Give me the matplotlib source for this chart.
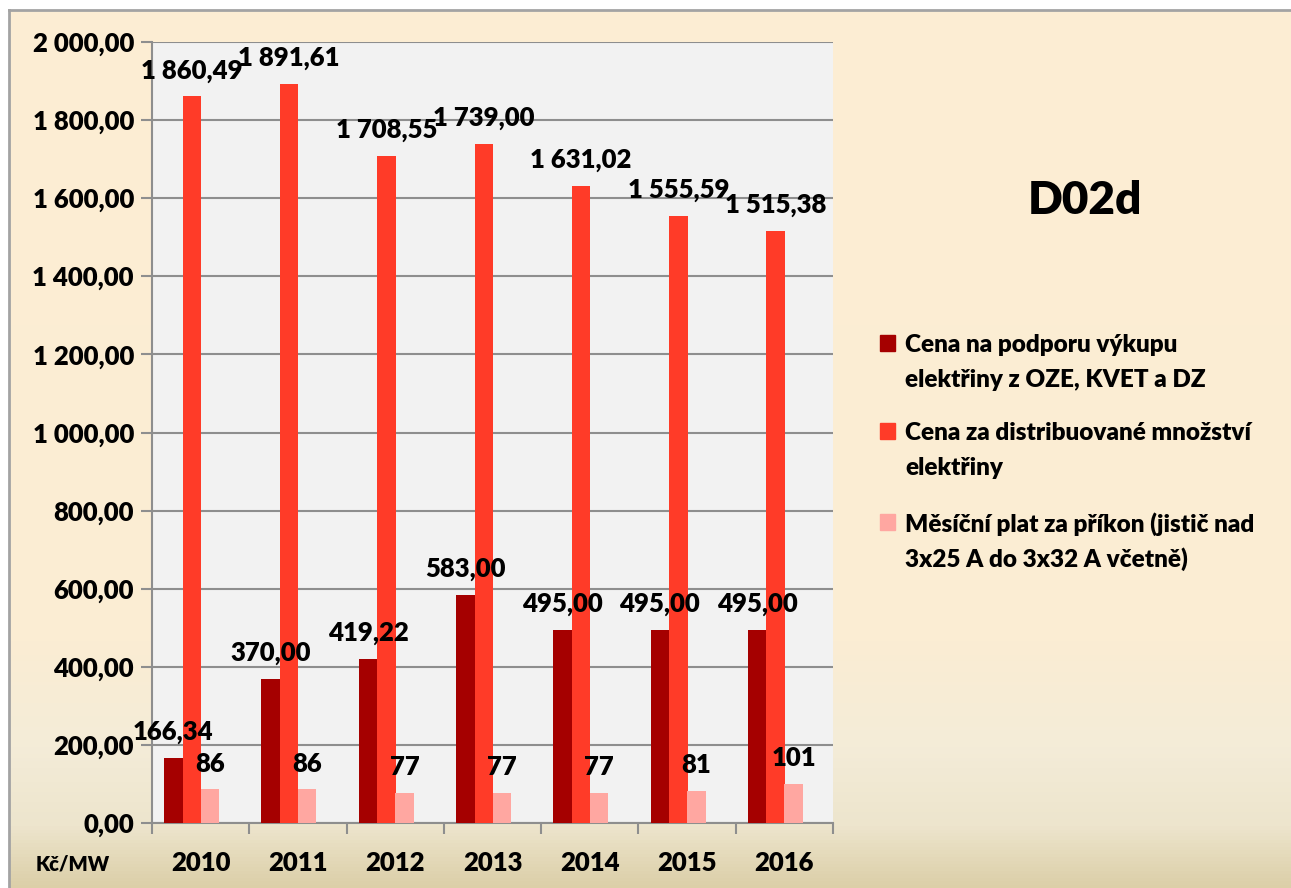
import numpy as np
import matplotlib.pyplot as plt
from matplotlib.colors import LinearSegmentedColormap
from matplotlib.patches import Rectangle

years = ["2010", "2011", "2012", "2013", "2014", "2015", "2016"]
podpora_oze = [166.34, 370.00, 419.22, 583.00, 495.00, 495.00, 495.00]
distribuce = [1860.49, 1891.61, 1708.55, 1739.00, 1631.02, 1555.59, 1515.38]
mesicni_plat = [86, 86, 77, 77, 77, 81, 101]

series_names = [
    "Cena na podporu výkupu\nelektřiny z OZE, KVET a DZ",
    "Cena za distribuované množství\nelektřiny",
    "Měsíční plat za příkon (jistič nad\n3x25 A do 3x32 A včetně)",
]
colors = ["#a50000", "#ff3b28", "#ffa7a1"]

plt.rcParams['font.family'] = ['Lato', 'DejaVu Sans']
WEIGHT = "heavy"
W, H = 1291, 888


def fmt_cz(v, dec=2):
    s = f"{v:,.{dec}f}"
    return s.replace(",", " ").replace(".", ",")


fig = plt.figure(figsize=(W / 100, H / 100), dpi=100)
fig.patch.set_facecolor("white")

# background panel with vertical gradient
bg = fig.add_axes([9 / W, 0, 1 - 9 / W, 1 - 10 / H], zorder=-10)
cmap = LinearSegmentedColormap.from_list("bg", [
    (0.0, "#fdeed3"), (0.72, "#fbedd3"), (0.84, "#f4ecd8"),
    (0.93, "#ede5cd"), (1.0, "#dccfa8")])
grad = np.linspace(0, 1, 256).reshape(-1, 1)
bg.imshow(grad, aspect="auto", cmap=cmap, extent=[0, 1, 0, 1], origin="upper")
bg.set_xlim(0, 1)
bg.set_ylim(0, 1)
bg.axis("off")
fig.add_artist(plt.Line2D([9 / W, 9 / W], [0, 1 - 10 / H], color="#a3a3a3", lw=2))
fig.add_artist(plt.Line2D([9 / W, 1], [1 - 10 / H, 1 - 10 / H], color="#a3a3a3", lw=2))

ax = fig.add_axes([152 / W, 65 / H, (833 - 152) / W, (823 - 42) / H])
ax.set_facecolor("#f2f2f2")

x = np.arange(len(years))
w = 0.19
offsets = [-0.28, -0.09, 0.095]
data = [podpora_oze, distribuce, mesicni_plat]
for vals, off, col, name in zip(data, offsets, colors, series_names):
    ax.bar(x + off, vals, width=w, color=col, label=name, zorder=3)

for vals, off, dec in zip(data, offsets, [2, 2, 0]):
    for xi, v in zip(x, vals):
        ax.annotate(fmt_cz(v, dec), (xi + off, v), xytext=(0, 10), textcoords="offset points",
                    ha="center", va="bottom", fontsize=18.5, fontweight=WEIGHT, zorder=5,
                    annotation_clip=False)

ax.set_ylim(0, 2000)
ax.set_xlim(-0.5, len(years) - 0.5)
ax.set_yticks(np.arange(0, 2001, 200))
ax.set_yticklabels([fmt_cz(v) for v in np.arange(0, 2001, 200)], fontsize=18.5, fontweight=WEIGHT)
ax.yaxis.grid(True, color="#8e8e8e", lw=1.5, zorder=0)
ax.set_axisbelow(True)

ax.set_xticks(x)
ax.set_xticklabels(years, fontsize=18.5, fontweight=WEIGHT)
ax.set_xticks(np.arange(-0.5, len(years)), minor=True)
ax.tick_params(axis="x", which="major", length=0, pad=20)
ax.tick_params(axis="x", which="minor", length=8, color="#8e8e8e", width=1.5)
ax.tick_params(axis="y", length=8, color="#8e8e8e", width=1.5, pad=5)

for s in ["top", "right"]:
    ax.spines[s].set_visible(False)
for s in ["left", "bottom"]:
    ax.spines[s].set_color("#8e8e8e")
    ax.spines[s].set_linewidth(1.5)

fig.text(73 / W, 1 - 864 / H, "Kč/MW", fontsize=14.5, fontweight=WEIGHT, ha="center", va="center")
fig.text(1085 / W, 1 - 200 / H, "D02d", fontsize=33, fontweight=WEIGHT, ha="center", va="center")

# legend drawn by hand to get the wide line spacing of the original
entry_top = [343, 431, 522]
for name, col, y0 in zip(series_names, colors, entry_top):
    fig.add_artist(Rectangle((880 / W, 1 - (y0 + 8) / H), 15 / W, 16 / H,
                             transform=fig.transFigure, color=col))
    for j, line in enumerate(name.split("\n")):
        fig.text(905 / W, 1 - (y0 + 35 * j) / H, line, fontsize=17.5, fontweight=WEIGHT,
                 ha="left", va="center_baseline")

fig.savefig("out.png", dpi=100)
